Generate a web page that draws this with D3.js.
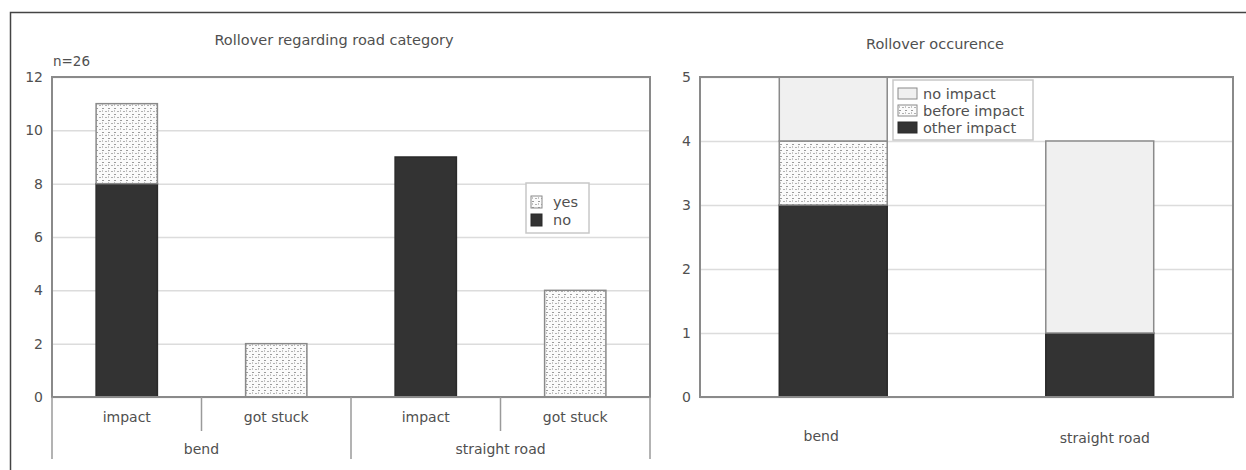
<!DOCTYPE html>
<html>
<head>
<meta charset="utf-8">
<script src="https://cdn.jsdelivr.net/npm/d3@7"></script>
<style>
  body { margin: 0; background: #fff; }
  svg text { font-family: "DejaVu Sans", sans-serif; fill: #505050; }
</style>
</head>
<body>
<svg width="1246" height="470"></svg>
<script>
// left chart: rollover regarding road category
const leftIds = ["bend-impact", "bend-stuck", "straight-impact", "straight-stuck"];
const leftLabels = ["impact", "got stuck", "impact", "got stuck"];
const leftGroups = ["bend", "straight road"];
const leftNo = [8, 0, 9, 0];
const leftYes = [3, 2, 0, 4];
const leftTicks = [0, 2, 4, 6, 8, 10, 12];

// right chart: rollover occurence
const rightCategories = ["bend", "straight road"];
const otherImpact = [3, 1];
const beforeImpact = [1, 0];
const noImpact = [1, 3];
const rightTicks = [0, 1, 2, 3, 4, 5];

const svg = d3.select("svg");
const dark = "#333333";
const light = "#f0f0f0";
const edge = "#8a8a8a";

// dotted fill
const defs = svg.append("defs");
const pat = defs.append("pattern")
    .attr("id", "dots")
    .attr("patternUnits", "userSpaceOnUse")
    .attr("width", 6).attr("height", 6);
pat.append("rect").attr("width", 6).attr("height", 6).attr("fill", "#fbfbfb");
pat.append("rect").attr("x", 0).attr("y", 0).attr("width", 2).attr("height", 1).attr("fill", "#9a9a9a");
pat.append("rect").attr("x", 3).attr("y", 3).attr("width", 2).attr("height", 1).attr("fill", "#b0b0b0");
pat.append("rect").attr("x", 0).attr("y", 2).attr("width", 1).attr("height", 2).attr("fill", "#c4c4c4");

const fillFor = key => key === "no" || key === "other" ? dark : key === "none" ? light : "url(#dots)";

// outer frame (top and left only)
svg.append("path")
    .attr("d", "M10.5,470 V12.5 H1246")
    .attr("fill", "none").attr("stroke", "#444").attr("stroke-width", 1.5);

const drawPanel = (cfg) => {
    const g = svg.append("g");
    const x = d3.scaleBand().domain(cfg.ids).range([cfg.x0, cfg.x1]).paddingInner(0).paddingOuter(0);
    const y = d3.scaleLinear().domain([0, cfg.max]).range([cfg.y0, cfg.y1]);

    // gridlines
    g.append("g")
        .attr("transform", `translate(${cfg.x0},0)`)
        .call(d3.axisLeft(y).tickValues(cfg.ticks).tickSize(-(cfg.x1 - cfg.x0)).tickFormat(""))
        .call(a => a.select(".domain").remove())
        .call(a => a.selectAll("line").attr("stroke", "#dcdcdc").attr("stroke-width", 1.5));

    // tick labels
    g.append("g")
        .attr("transform", `translate(${cfg.x0 - 9},0)`)
        .call(d3.axisLeft(y).tickValues(cfg.ticks).tickSize(0).tickPadding(0).tickFormat(d3.format("d")))
        .call(a => a.select(".domain").remove())
        .call(a => a.selectAll("text").attr("font-size", 14).attr("font-family", "DejaVu Sans").attr("fill", "#505050"));

    // stacked bars
    const table = cfg.ids.map((id, i) => {
        const row = {id};
        cfg.keys.forEach((k, j) => row[k] = cfg.series[j][i]);
        return row;
    });
    const stacked = d3.stack().keys(cfg.keys)(table);
    const bw = x.bandwidth() * cfg.barRatio;
    stacked.forEach(layer => {
        g.append("g").selectAll("rect")
            .data(layer.filter(d => d[1] > d[0]))
            .join("rect")
            .attr("x", d => x(d.data.id) + (x.bandwidth() - bw) / 2)
            .attr("width", bw)
            .attr("y", d => y(d[1]))
            .attr("height", d => y(d[0]) - y(d[1]))
            .attr("fill", fillFor(layer.key))
            .attr("stroke", layer.key === "no" || layer.key === "other" ? "#2a2a2a" : edge)
            .attr("stroke-width", 1.5);
    });

    // plot frame
    g.append("rect")
        .attr("x", cfg.x0).attr("y", cfg.y1)
        .attr("width", cfg.x1 - cfg.x0).attr("height", cfg.y0 - cfg.y1)
        .attr("fill", "none").attr("stroke", edge).attr("stroke-width", 2);

    g.append("text")
        .attr("x", cfg.titleX).attr("y", cfg.titleY)
        .attr("text-anchor", "middle").attr("font-size", 14.5)
        .text(cfg.title);

    return {g, x, y};
};

// ---- left panel
const left = drawPanel({
    ids: leftIds, keys: ["no", "yes"], series: [leftNo, leftYes],
    x0: 52, x1: 650, y0: 397, y1: 77, max: 12, ticks: leftTicks,
    barRatio: 0.41, title: "Rollover regarding road category", titleX: 334, titleY: 45
});

left.g.append("text").attr("x", 53).attr("y", 66).attr("font-size", 13.5).text("n=26");

// category separators and labels
const lx = left.x;
leftIds.forEach((id, i) => {
    left.g.append("text")
        .attr("x", lx(id) + lx.bandwidth() / 2).attr("y", 422)
        .attr("text-anchor", "middle").attr("font-size", 14)
        .text(leftLabels[i]);
    const isGroupEdge = i % 2 === 0;
    left.g.append("line")
        .attr("x1", lx(id)).attr("x2", lx(id))
        .attr("y1", 397).attr("y2", isGroupEdge ? 459 : 431)
        .attr("stroke", "#9a9a9a").attr("stroke-width", 1.5);
});
left.g.append("line")
    .attr("x1", 650).attr("x2", 650).attr("y1", 397).attr("y2", 459)
    .attr("stroke", "#9a9a9a").attr("stroke-width", 1.5);
leftGroups.forEach((grp, i) => {
    const a = lx(leftIds[i * 2]), b = lx(leftIds[i * 2 + 1]) + lx.bandwidth();
    left.g.append("text")
        .attr("x", (a + b) / 2).attr("y", 454)
        .attr("text-anchor", "middle").attr("font-size", 14)
        .text(grp);
});

// left legend
const leg1 = left.g.append("g").attr("transform", "translate(526,183)");
leg1.append("rect").attr("width", 63).attr("height", 50).attr("fill", "#fff").attr("stroke", "#c8c8c8").attr("stroke-width", 1.5);
[["yes", "url(#dots)"], ["no", dark]].forEach(([name, f], i) => {
    leg1.append("rect").attr("x", 5).attr("y", 13 + i * 18).attr("width", 11).attr("height", 12)
        .attr("fill", f).attr("stroke", i === 0 ? edge : "#2a2a2a").attr("stroke-width", 1);
    leg1.append("text").attr("x", 27).attr("y", 24 + i * 18).attr("font-size", 14.5).text(name);
});

// ---- right panel
const right = drawPanel({
    ids: rightCategories, keys: ["other", "before", "none"], series: [otherImpact, beforeImpact, noImpact],
    x0: 700, x1: 1233, y0: 397, y1: 77, max: 5, ticks: rightTicks,
    barRatio: 0.405, title: "Rollover occurence", titleX: 935, titleY: 49
});

const rx = right.x;
rightCategories.forEach((c, i) => {
    right.g.append("text")
        .attr("x", rx(c) + rx.bandwidth() / 2 + (i === 0 ? -12 : 5)).attr("y", 441 + i * 2)
        .attr("text-anchor", "middle").attr("font-size", 14)
        .text(c);
});

// right legend
const leg2 = right.g.append("g").attr("transform", "translate(893,80)");
leg2.append("rect").attr("width", 140).attr("height", 60).attr("fill", "#fff").attr("stroke", "#c8c8c8").attr("stroke-width", 1.5);
[["no impact", light, edge], ["before impact", "url(#dots)", edge], ["other impact", dark, "#2a2a2a"]].forEach(([name, f, s], i) => {
    leg2.append("rect").attr("x", 5).attr("y", 8 + i * 17).attr("width", 19).attr("height", 11)
        .attr("fill", f).attr("stroke", s).attr("stroke-width", 1);
    leg2.append("text").attr("x", 30).attr("y", 19 + i * 17).attr("font-size", 14.5).text(name);
});
</script>
</body>
</html>
